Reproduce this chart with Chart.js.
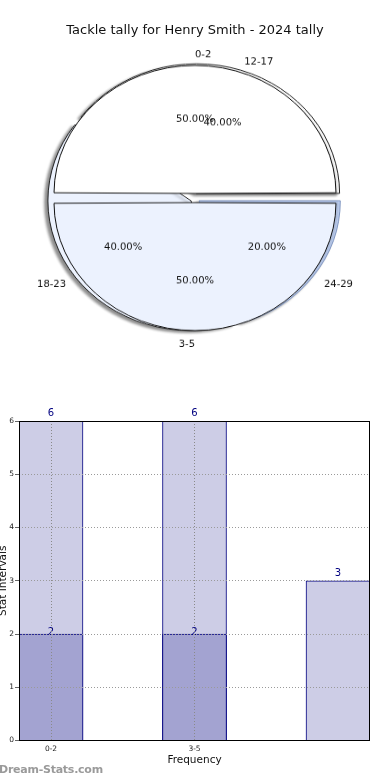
<!DOCTYPE html>
<html><head><meta charset="utf-8">
<script src="https://cdn.jsdelivr.net/npm/chart.js@4.4.1/dist/chart.umd.min.js"></script>
<style>
html,body{margin:0;padding:0;background:#fff;}
body{width:390px;height:780px;position:relative;overflow:hidden;font-family:"DejaVu Sans",sans-serif;}
#title{position:absolute;left:0;top:21px;width:390px;text-align:center;font-size:13px;line-height:18px;color:#111;}
#pieWrap{position:absolute;left:0;top:0;width:390px;height:396px;transform:scaleY(0.908);transform-origin:195px 198px;}
#pieWrap canvas{position:absolute;left:0;top:0;}
#barWrap{position:absolute;left:0;top:400px;width:390px;height:380px;}
#wm{position:absolute;left:-1px;top:763px;font-size:11px;font-weight:bold;letter-spacing:-0.25px;line-height:13px;color:#9a9a9a;}
</style></head><body>
<div id="pieWrap"><canvas id="pieB" width="390" height="396"></canvas><canvas id="pieA" width="390" height="396"></canvas></div>
<div id="title">Tackle tally for Henry Smith - 2024 tally</div>
<div id="barWrap"><canvas id="bar" width="390" height="380"></canvas></div>
<div id="wm">Dream-Stats.com</div>
<script>
// ---- data ----
const pieALabels = ['0-2', '3-5'];
const pieAValues = [6, 6];
const pieBLabels = ['12-17', '18-23', '24-29'];
const pieBValues = [2, 2, 1];
const barCategories = ['0-2', '3-5', ''];
const barTotals = [6, 6, 3];
const barSubset = [2, 2, null];
const yTickValues = [0, 1, 2, 3, 4, 5, 6];

// ---- pie ----
const PIE_R = 141;
const LABEL_NUDGE = 2.2;
const FONT = '"DejaVu Sans", sans-serif';

function drawPieLabels(chart, ctx) {
  const meta = chart.getDatasetMeta(0);
  const ds = chart.data.datasets[0];
  const total = ds.data.reduce((a, b) => a + b, 0);
  ctx.save();
  ctx.font = '10px ' + FONT;
  ctx.fillStyle = '#111';
  ctx.textBaseline = 'middle';
  meta.data.forEach((arc, i) => {
    const p = arc.getProps(['x', 'y', 'startAngle', 'endAngle'], true);
    const mid = (p.startAngle + p.endAngle) / 2;
    const c = Math.cos(mid), s = Math.sin(mid);
    const cy = p.y + LABEL_NUDGE;
    ctx.textAlign = 'center';
    ctx.fillText((ds.data[i] / total * 100).toFixed(2) + '%', p.x + c * PIE_R * 0.63, cy + s * PIE_R * 0.63);
    ctx.textAlign = c > 0.01 ? 'left' : c < -0.01 ? 'right' : (s < 0 ? 'left' : 'right');
    ctx.fillText(chart.data.labels[i], p.x + c * PIE_R * 1.13, cy + s * PIE_R * 1.13);
  });
  ctx.restore();
}

const shadowPlugin = {
  id: 'pieShadow',
  beforeDatasetsDraw(chart) {
    const ctx = chart.ctx;
    ctx.save();
    ctx.shadowColor = 'rgba(0,0,0,0.45)';
    ctx.shadowOffsetX = -3;
    ctx.shadowOffsetY = 2;
    ctx.shadowBlur = 3;
  },
  afterDatasetsDraw(chart) { chart.ctx.restore(); }
};

const pieBase = (rotation) => ({
  responsive: false, animation: false, events: [],
  rotation: rotation,
  layout: { padding: 0 },
  plugins: { legend: { display: false }, tooltip: { enabled: false } }
});

// drawn counter-clockwise in the original, so feed the library the reversed order
const pieBOrder = pieBLabels.map((l, i) => i).reverse();
const pieB = new Chart(document.getElementById('pieB'), {
  type: 'pie',
  data: { labels: pieBOrder.map(i => pieBLabels[i]), datasets: [{
    data: pieBOrder.map(i => pieBValues[i]),
    backgroundColor: ['#c6d8fb', '#ecf2fe', '#ffffff'],
    borderColor: ['#7f95c0', '#222', '#222'], borderWidth: 1, offset: 20
  }]},
  options: Object.assign(pieBase(90), { radius: PIE_R }),
  plugins: [shadowPlugin]
});

const pieA = new Chart(document.getElementById('pieA'), {
  type: 'pie',
  data: { labels: pieALabels, datasets: [{
    data: pieAValues,
    backgroundColor: ['#ffffff', '#ecf2fe'],
    borderColor: '#111', borderWidth: 1, offset: 20
  }]},
  options: Object.assign(pieBase(-90), { radius: PIE_R - 5 }),
  plugins: [{ id: 'pieLabels', afterDraw(chart) { drawPieLabels(pieB, chart.ctx); drawPieLabels(chart, chart.ctx); } }]
});

// ---- bar ----
const framePlugin = {
  id: 'frame',
  afterDraw(chart) {
    const a = chart.chartArea, ctx = chart.ctx;
    ctx.save();
    ctx.strokeStyle = '#000';
    ctx.lineWidth = 1;
    const l = Math.round(a.left) + 0.5, t = Math.round(a.top) + 0.5;
    const r = Math.round(a.right) - 0.5, b = Math.round(a.bottom) - 0.5;
    ctx.strokeRect(l, t, r - l, b - t);
    ctx.restore();
  }
};
const barLabelPlugin = {
  id: 'barLabels',
  afterDatasetsDraw(chart, args, opts) {
    const ctx = chart.ctx;
    ctx.save();
    ctx.font = '10px ' + FONT;
    ctx.fillStyle = '#000080';
    ctx.textAlign = 'center';
    ctx.textBaseline = 'alphabetic';
    chart.data.datasets.forEach((ds, di) => {
      const meta = chart.getDatasetMeta(di);
      meta.data.forEach((bar, i) => {
        const v = ds.data[i].y;
        if (v === null || v === undefined) return;
        ctx.fillText(String(v), bar.x, bar.y + opts.shift[di]);
      });
    });
    ctx.restore();
  }
};

new Chart(document.getElementById('bar'), {
  type: 'bar',
  data: { datasets: [
    { label: 'subset', data: barSubset.map((v, i) => ({ x: i, y: v })),
      backgroundColor: '#a3a3d1', borderColor: '#000080',
      borderWidth: { top: 1, left: 1, right: 1, bottom: 0 },
      order: 0, grouped: false, barThickness: 64 },
    { label: 'total', data: barTotals.map((v, i) => ({ x: i, y: v })),
      backgroundColor: '#cdcde6', borderColor: '#000080',
      borderWidth: { top: 1, left: 1, right: 1, bottom: 0 },
      order: 1, grouped: false, barThickness: 64 }
  ]},
  options: {
    responsive: false, animation: false, events: [],
    layout: { padding: { top: 21, right: 20, bottom: 4.9, left: 0 } },
    plugins: { legend: { display: false }, tooltip: { enabled: false }, barLabels: { shift: [0.5, -5] } },
    scales: {
      x: {
        type: 'linear', min: -0.223, max: 2.223, offset: false,
        afterBuildTicks: (s) => { s.ticks = barCategories.map((c, i) => ({ value: i })).filter(t => barCategories[t.value]); },
        ticks: { callback: (v) => barCategories[v], font: { size: 7.5, family: FONT }, color: '#222', padding: 4, maxRotation: 0, autoSkip: false },
        grid: { color: '#8a8a8a', drawTicks: false, offset: false, z: 1 },
        border: { display: false, dash: [1, 2] },
        title: { display: true, text: 'Frequency', font: { size: 10.5, family: FONT }, color: '#111', padding: { top: -3.3, bottom: 8.3 } }
      },
      y: {
        min: 0, max: 6,
        afterBuildTicks: (s) => { s.ticks = yTickValues.map(v => ({ value: v })); },
        ticks: { font: { size: 7.5, family: FONT }, color: '#222', padding: 1 },
        grid: { color: '#9a9a9a', tickLength: 4, tickColor: '#666', tickBorderDash: [], offset: false, z: 1 },
        border: { display: false, dash: [1, 2] },
        title: { display: true, text: 'Stat Intervals', font: { size: 10.5, family: FONT }, color: '#111', padding: { top: -3, bottom: 0 } },
        afterFit: (s) => { s.width = 19; }
      }
    }
  },
  plugins: [barLabelPlugin, framePlugin]
});
</script>
</body></html>
